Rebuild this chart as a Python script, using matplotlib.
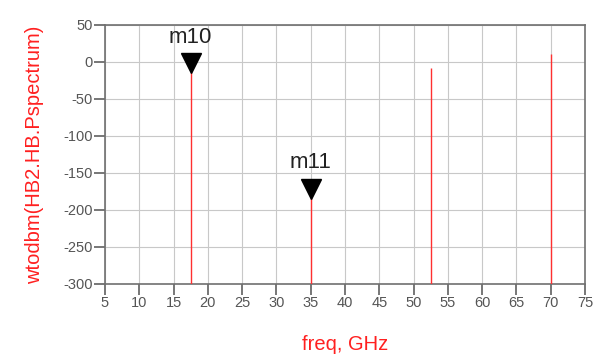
import matplotlib
matplotlib.use("Agg")
import matplotlib.pyplot as plt
import numpy as np

plt.rcParams['font.family'] = ['Liberation Sans', 'DejaVu Sans']
plt.rcParams['axes.unicode_minus'] = False

freq = [17.5, 35.0, 52.5, 70.0]
power = [-11, -180, -8, 11]
marker_names = ["m10", "m11"]
marker_idx = [0, 1]

xticks = np.arange(5, 80, 5)
yticks = np.arange(-300, 100, 50)

fig = plt.figure(figsize=(5.98, 3.62), dpi=100)
ax = fig.add_axes([0.1756, 0.2155, 0.8027, 0.7155])

ax.vlines(freq, -300, power, color='#ff3030', lw=1.0, zorder=3)

for name, i in zip(marker_names, marker_idx):
    ax.plot(freq[i], power[i] + 9, marker='v', color='black', ms=14, zorder=4)
    ax.annotate(name, (freq[i], power[i]), xytext=(0, 16), textcoords='offset points',
                ha='center', va='bottom', fontsize=16, color='#222222')

ax.set_xlim(5, 75)
ax.set_ylim(-300, 50)
ax.set_xticks(xticks)
ax.set_yticks(yticks)
ax.grid(True, color='#c8c8c8', lw=0.8)
ax.set_axisbelow(True)
for s in ax.spines.values():
    s.set_color('#707070')
    s.set_linewidth(1.2)
ax.tick_params(axis='both', direction='out', length=8, width=1.2, color='#606060',
               labelcolor='#555555', labelsize=10.5, pad=1)

ax.set_xlabel('freq, GHz', color='#ff2020', fontsize=14.5, labelpad=18)
ax.set_ylabel('wtodbm(HB2.HB.Pspectrum)', color='#ff2020', fontsize=14.5, labelpad=14)

fig.savefig('out.png', dpi=100)
